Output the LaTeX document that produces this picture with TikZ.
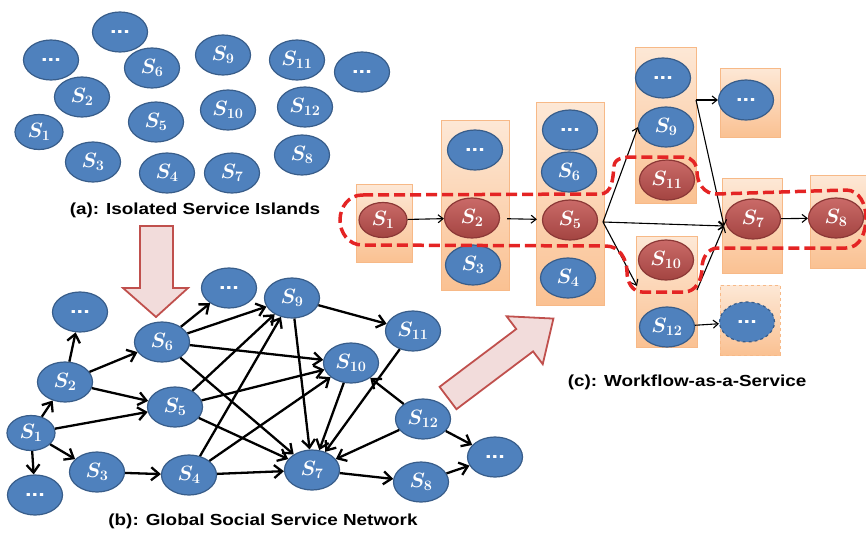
\documentclass[tikz,border=0pt]{standalone}
\usepackage{fontspec}
\newfontfamily\capfont[FakeStretch=1.18]{Liberation Sans}
\usetikzlibrary{shapes.geometric,arrows.meta}

\definecolor{svcblue}{RGB}{79,129,189}
\definecolor{svcedge}{RGB}{56,93,138}
\definecolor{svcred}{RGB}{192,80,77}
\definecolor{svcrededge}{RGB}{140,56,54}
\definecolor{boxtop}{RGB}{253,232,214}
\definecolor{boxbot}{RGB}{250,193,146}
\definecolor{boxedge}{RGB}{247,185,135}
\definecolor{routered}{RGB}{228,36,36}
\definecolor{hintfill}{RGB}{242,220,219}
\definecolor{hintedge}{RGB}{192,80,77}

\begin{document}
\begin{tikzpicture}[x=1pt, y=-1pt,
    >={Straight Barb[length=8pt,width=13pt]},
    svc/.style={ellipse, draw=svcedge, fill=svcblue, line width=1.2pt,
      text=white, minimum width=55pt, minimum height=40pt, inner sep=0pt,
      font=\fontsize{22}{22}\selectfont\boldmath},
    small/.style={minimum width=48pt, minimum height=35pt},
    hot/.style={svc, draw=svcrededge, top color=svcred!85!white,
      bottom color=svcred!85!black},
    dots/.style={svc, font=\capfont\bfseries\fontsize{20}{20}\selectfont},
    stage/.style={rectangle, draw=boxedge, line width=0.8pt, inner sep=0pt,
      top color=boxtop, bottom color=boxbot},
    caption/.style={font=\capfont\bfseries\fontsize{16}{16}\selectfont},
    net/.style={->, line width=2.3pt},
    flow/.style={-{Straight Barb[length=5pt,width=8pt]}, line width=1.1pt},
    hint/.style={draw=hintedge, fill=hintfill, line width=1.8pt},
    route/.style={draw=routered, line width=3.5pt, dash pattern=on 11pt off 5pt}
    ]

    \useasboundingbox (0,0) rectangle (866,533);

    % (a) isolated services
    \node[dots]        (idA) at (120,32)  {...};
    \node[dots]        (idB) at (51,60)   {...};
    \node[svc]         (i6)  at (152,68)  {$S_6$};
    \node[svc]         (i9)  at (223,55)  {$S_9$};
    \node[svc]         (i11) at (297,60)  {$S_{11}$};
    \node[dots]        (idC) at (362,72)  {...};
    \node[svc]         (i2)  at (82,97)   {$S_2$};
    \node[svc]         (i5)  at (156,122) {$S_5$};
    \node[svc]         (i10) at (228,110) {$S_{10}$};
    \node[svc]         (i12) at (305,107) {$S_{12}$};
    \node[svc, small]  (i1)  at (39,132)  {$S_1$};
    \node[svc]         (i3)  at (93,162)  {$S_3$};
    \node[svc]         (i4)  at (167,173) {$S_4$};
    \node[svc]         (i7)  at (232,173) {$S_7$};
    \node[svc]         (i8)  at (302,155) {$S_8$};
    \node[caption]     (capA) at (195,210) {(a): Isolated Service Islands};

    \draw[hint] (140,226) -- (173,226) -- (173,288) -- (188,288) -- (156,317)
      -- (123,288) -- (140,288) -- cycle;

    % (b) service network
    \node[svc, small]  (n1)  at (31,433)  {$S_1$};
    \node[dots]        (ndA) at (35,495)  {...};
    \node[svc]         (n3)  at (97,472)  {$S_3$};
    \node[svc]         (n4)  at (189,475) {$S_4$};
    \node[svc]         (n7)  at (312,470) {$S_7$};
    \node[svc]         (n8)  at (421,482) {$S_8$};
    \node[svc]         (n2)  at (65,382)  {$S_2$};
    \node[dots]        (ndB) at (80,312)  {...};
    \node[svc]         (n6)  at (162,342) {$S_6$};
    \node[svc]         (n5)  at (175,407) {$S_5$};
    \node[dots]        (ndC) at (229,288) {...};
    \node[svc]         (n9)  at (292,298) {$S_9$};
    \node[svc]         (n10) at (351,363) {$S_{10}$};
    \node[svc]         (n11) at (413,331) {$S_{11}$};
    \node[svc]         (n12) at (423,419) {$S_{12}$};
    \node[dots]        (ndD) at (495,457) {...};
    \node[caption]     (capB) at (263,521) {(b): Global Social Service Network};

    \path[net]
    (n1)  edge (n2) edge (n5) edge (n3) edge (ndA)
    (n2)  edge (ndB) edge (n6) edge (n5)
    (n3)  edge (n4)
    (n4)  edge (n9) edge (n10) edge (n7)
    (n5)  edge (n9) edge (n10) edge (n7)
    (n6)  edge (ndC) edge (n9) edge (n10) edge (n7)
    (n9)  edge (n7) edge (n11)
    (n10) edge (n7)
    (n11) edge (n7)
    (n12) edge (n10) edge (n7) edge (ndD)
    (n7)  edge (n8)
    (n8)  edge (ndD);

    \begin{scope}[shift={(448,398)}, rotate=37]
      \draw[hint] (0,-14) -- (96,-14) -- (96,-30) -- (132,0) -- (96,30)
        -- (96,14) -- (0,14) -- cycle;
    \end{scope}

    % (c) workflow stages
    \node[stage, minimum width=56, minimum height=78]  (bx1) at (384,223)   {};
    \node[stage, minimum width=68, minimum height=170] (bx2) at (475,205)   {};
    \node[stage, minimum width=68, minimum height=203] (bx3) at (570,203.5) {};
    \node[stage, minimum width=61, minimum height=156] (bx4) at (665.5,125) {};
    \node[stage, minimum width=61, minimum height=111] (bx5) at (666.5,291.5) {};
    \node[stage, minimum width=60, minimum height=69]  (bx6) at (750,102.5) {};
    \node[stage, minimum width=60, minimum height=95]  (bx7) at (752,225.5) {};
    \node[stage, minimum width=60, minimum height=70, dashed] (bx8) at (750,320) {};
    \node[stage, minimum width=60, minimum height=93]  (bx9) at (840,221.5) {};

    \node[hot, small]  (w1)  at (383,220) {$S_1$};
    \node[dots]        (wdA) at (475,150) {...};
    \node[hot]         (w2)  at (472,218) {$S_2$};
    \node[svc]         (w3)  at (473,265) {$S_3$};
    \node[dots]        (wdB) at (570,130) {...};
    \node[svc]         (w6)  at (569,172) {$S_6$};
    \node[hot]         (w5)  at (570,220) {$S_5$};
    \node[svc]         (w4)  at (568,278) {$S_4$};
    \node[dots]        (wdC) at (663,78)  {...};
    \node[svc]         (w9)  at (666,127) {$S_9$};
    \node[hot]         (w11) at (667,180) {$S_{11}$};
    \node[hot]         (w10) at (666,260) {$S_{10}$};
    \node[svc]         (w12) at (667,327) {$S_{12}$};
    \node[dots]        (wdD) at (746,100) {...};
    \node[hot]         (w7)  at (753,219) {$S_7$};
    \node[dots, dashed] (wdE) at (747,322) {...};
    \node[hot]         (w8)  at (836,218) {$S_8$};
    \node[caption]     (capC) at (687,382) {(c): Workflow-as-a-Service};

    \coordinate (fork)   at (603,222);
    \coordinate (merge)  at (724,226);
    \coordinate (upout)  at (696,100);
    \coordinate (lowout) at (697,290);
    \coordinate (lowin)  at (637,286);

    \draw[flow] (w1) -- (w2);
    \draw[flow, shorten <=7pt, shorten >=5pt] (w2) -- (w5);
    \draw[flow] (fork) -- (w9.west);
    \draw[flow] (fork) -- (merge);
    \draw[flow] (fork) -- (lowin);
    \draw[flow] (upout) -- (wdD);
    \draw[flow] (upout) -- (merge);
    \draw[flow] (lowout) -- (merge);
    \draw[flow] (w7) -- (w8);
    \draw[flow] (w12) -- (wdE);

    % selected path
    \draw[route]
      (362,195) -- (600,194)
      to[out=0,in=-95] (614,166)
      to[out=85,in=180] (632,157)
      -- (684,157)
      to[out=0,in=90] (697,172)
      to[out=-90,in=180] (716,194)
      -- (846,190)
      to[out=0,in=90] (866,218)
      to[out=-90,in=0] (846,248)
      -- (718,248)
      to[out=180,in=90] (702,268)
      to[out=-90,in=0] (684,292)
      -- (642,292)
      to[out=180,in=-90] (627,272)
      to[out=90,in=0] (606,246)
      -- (362,245)
      to[out=180,in=-90] (340,220)
      to[out=90,in=180] (362,195) -- cycle;
  \end{tikzpicture}
\end{document}
